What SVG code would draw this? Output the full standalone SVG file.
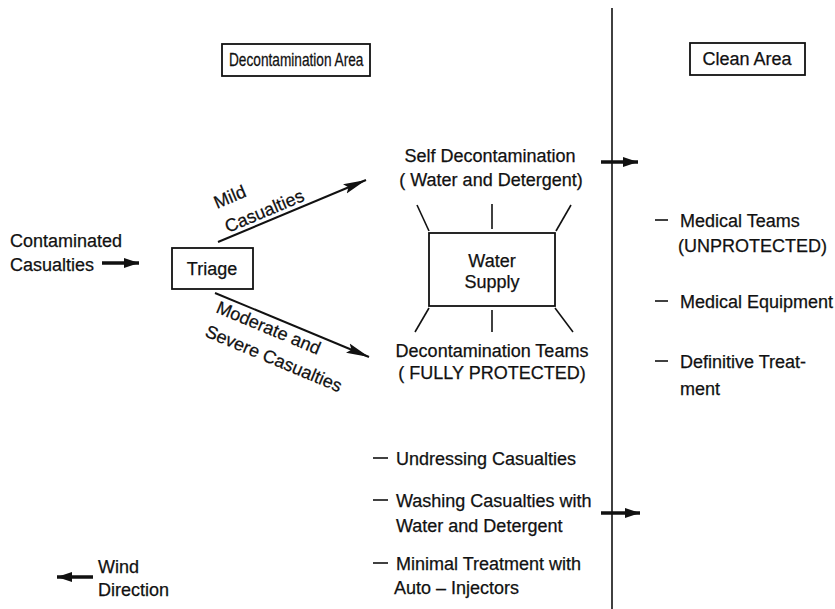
<svg xmlns="http://www.w3.org/2000/svg" width="835" height="609" viewBox="0 0 835 609">
  <style>
    text { font-family: "Liberation Sans", Arial, sans-serif; font-size: 18px; fill: #111; stroke: #111; stroke-width: 0.25; }
    .mid { text-anchor: middle; }
    .box { fill: none; stroke: #111; stroke-width: 1.8; }
    .ln { fill: none; stroke: #111; stroke-width: 1.6; }
    .thick { fill: none; stroke: #111; stroke-width: 3.5; }
    .diag { fill: none; stroke: #111; stroke-width: 2; }
  </style>
  <defs>
    <marker id="headSmall" markerUnits="userSpaceOnUse" markerWidth="16" markerHeight="12" refX="15" refY="6" orient="auto">
      <path d="M0,1 L15,6 L0,11 Z" fill="#111"/>
    </marker>
    <marker id="headDiag" markerUnits="userSpaceOnUse" markerWidth="24" markerHeight="12" refX="23" refY="6" orient="auto">
      <path d="M0,1 L23,6 L0,11 L4,6 Z" fill="#111"/>
    </marker>
  </defs>

  <rect width="835" height="609" fill="#fff"/>

  <!-- boundary between the two areas -->
  <line class="ln" x1="612" y1="8" x2="612" y2="609" stroke-width="2"/>

  <!-- area headings -->
  <g id="decon-area">
    <rect class="box" x="222" y="44" width="148" height="32"/>
    <!-- heading lettering is narrower than the body text -->
    <text x="0" y="0" transform="translate(229 66) scale(0.76 1)">Decontamination Area</text>
  </g>
  <g id="clean-area">
    <rect class="box" x="690" y="43" width="115" height="32"/>
    <text class="mid" x="747" y="65">Clean Area</text>
  </g>

  <g id="contaminated">
    <text x="10" y="247">Contaminated</text>
    <text x="10" y="271">Casualties</text>
  </g>

  <g id="triage">
    <rect class="box" x="172" y="248" width="81" height="41"/>
    <text class="mid" x="212" y="275">Triage</text>
  </g>

  <g id="self-decon">
    <text class="mid" x="490" y="162">Self Decontamination</text>
    <text class="mid" x="491" y="186">( Water and Detergent)</text>
  </g>

  <g id="water-supply">
    <rect class="box" x="429" y="233" width="126" height="73"/>
    <text class="mid" x="492" y="267">Water</text>
    <text class="mid" x="492" y="288">Supply</text>
    <!-- spokes -->
    <line class="ln" x1="417" y1="205" x2="429" y2="231"/>
    <line class="ln" x1="492" y1="204" x2="492" y2="229"/>
    <line class="ln" x1="571" y1="205" x2="556" y2="231"/>
    <line class="ln" x1="429" y1="308" x2="415" y2="332"/>
    <line class="ln" x1="492" y1="310" x2="492" y2="332"/>
    <line class="ln" x1="555" y1="308" x2="573" y2="332"/>
  </g>

  <g id="decon-teams">
    <text class="mid" x="492" y="357">Decontamination Teams</text>
    <text class="mid" x="492" y="379">( FULLY PROTECTED)</text>
  </g>

  <g id="decon-tasks">
    <line class="ln" x1="373" y1="458" x2="388" y2="458"/>
    <text x="396" y="465">Undressing Casualties</text>
    <line class="ln" x1="373" y1="500" x2="388" y2="500"/>
    <text x="396" y="507">Washing Casualties with</text>
    <text x="396" y="532">Water and Detergent</text>
    <line class="ln" x1="373" y1="563" x2="388" y2="563"/>
    <text x="396" y="570">Minimal Treatment with</text>
    <text x="394" y="594">Auto – Injectors</text>
  </g>

  <g id="clean-tasks">
    <line class="ln" x1="655" y1="220" x2="668" y2="220"/>
    <text x="680" y="227">Medical Teams</text>
    <text x="678" y="252">(UNPROTECTED)</text>
    <line class="ln" x1="655" y1="301" x2="668" y2="301"/>
    <text x="680" y="308">Medical Equipment</text>
    <line class="ln" x1="655" y1="361" x2="668" y2="361"/>
    <text x="680" y="368">Definitive Treat-</text>
    <text x="680" y="395">ment</text>
  </g>

  <g id="wind">
    <text x="98" y="573">Wind</text>
    <text x="98" y="596">Direction</text>
  </g>

  <!-- flow connectors -->
  <g id="connectors">
    <line class="thick" x1="102" y1="263" x2="139" y2="263" marker-end="url(#headSmall)"/>
    <line class="diag" x1="218" y1="242" x2="366" y2="180" marker-end="url(#headDiag)"/>
    <line class="diag" x1="215" y1="293" x2="369" y2="357" marker-end="url(#headDiag)"/>
    <line class="thick" x1="601" y1="162" x2="638" y2="162" marker-end="url(#headSmall)"/>
    <line class="thick" x1="601" y1="513" x2="640" y2="513" marker-end="url(#headSmall)"/>
    <line class="thick" x1="93" y1="577" x2="57" y2="577" marker-end="url(#headSmall)"/>
  </g>

  <!-- labels along the diagonal connectors -->
  <g id="mild-label">
    <text x="217" y="209" transform="rotate(-22.9 217 209)">Mild</text>
    <text x="228" y="233" transform="rotate(-22.9 228 233)">Casualties</text>
  </g>
  <g id="severe-label">
    <text x="215" y="312" transform="rotate(22.7 215 312)">Moderate and</text>
    <text x="204" y="336" transform="rotate(22.7 204 336)">Severe Casualties</text>
  </g>
</svg>
